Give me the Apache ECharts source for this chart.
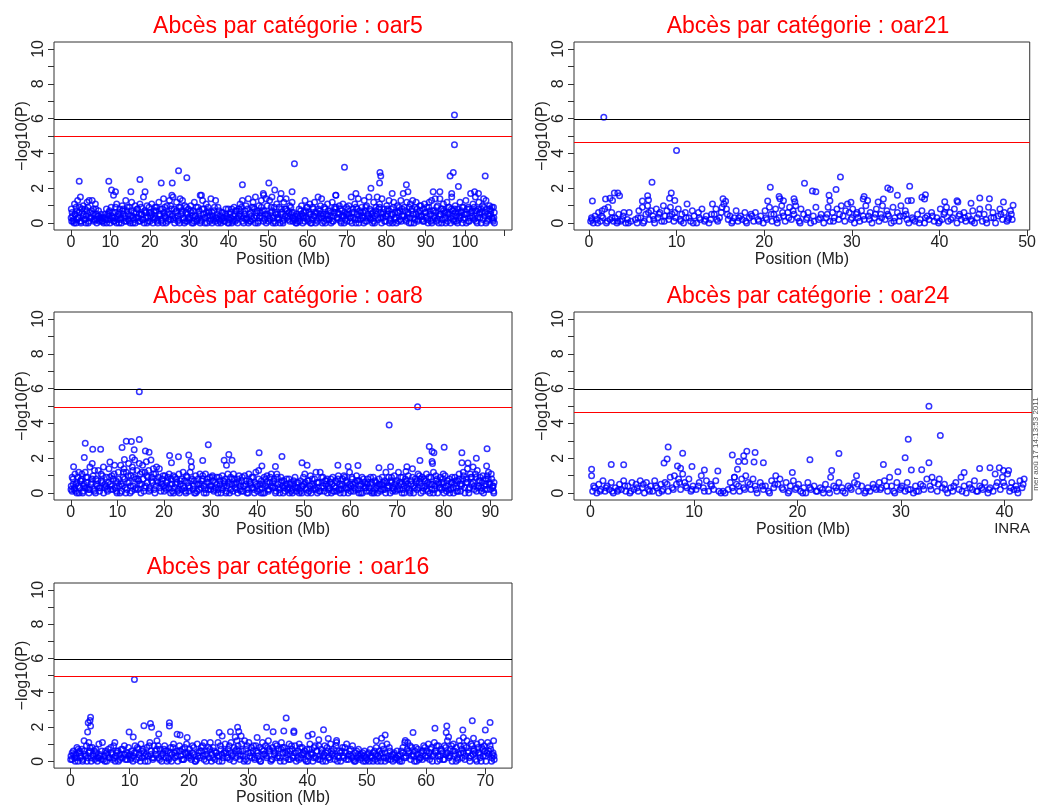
<!DOCTYPE html>
<html>
<head>
<meta charset="utf-8">
<script src="https://cdn.jsdelivr.net/npm/echarts@6/dist/echarts.min.js"></script>
<style>
html,body{margin:0;padding:0;background:#fff;}
#chart{width:1039px;height:807px;}
</style>
</head>
<body>
<div id="chart"></div>
<script>
// les 5 chromosomes : positions (Mb) et -log10(P)
var chromNames = ['oar5', 'oar21', 'oar8', 'oar24', 'oar16'];
var blackLines = [5.98, 5.98, 5.95, 5.95, 5.97];
var redLines = [4.98, 4.65, 4.94, 4.62, 4.93];
var yTicks = [0, 1, 2, 3, 4, 5, 6, 7, 8, 9, 10];
var yLabels = [0, 2, 4, 6, 8, 10];
var xTicks = [
	[0, 10, 20, 30, 40, 50, 60, 70, 80, 90, 100, 110],
	[0, 10, 20, 30, 40, 50],
	[0, 10, 20, 30, 40, 50, 60, 70, 80, 90],
	[0, 10, 20, 30, 40],
	[0, 10, 20, 30, 40, 50, 60, 70]
];
var xLabels = [
	[0, 10, 20, 30, 40, 50, 60, 70, 80, 90, 100],
	[0, 10, 20, 30, 40, 50],
	[0, 10, 20, 30, 40, 50, 60, 70, 80, 90],
	[0, 10, 20, 30, 40],
	[0, 10, 20, 30, 40, 50, 60, 70]
];

var oar5Peaks = [[97.3,6.2],[97.3,4.5],[56.7,3.4],[69.4,3.2],[27.3,3.0],[78.4,2.9],[78.6,2.7],[97.0,2.9],[96.2,2.7],[105.1,2.7],[29.4,2.6],[2.1,2.4],[9.6,2.4],[17.5,2.5],[22.9,2.3],[25.7,2.3],[43.5,2.2],[50.2,2.3],[78.3,2.3],[85.1,2.2],[98.3,2.1],[76.1,2.0],[10.3,1.9],[51.7,1.9],[56.1,1.8],[18.8,1.8],[15.2,1.8],[11.3,1.8],[85.5,1.8],[91.9,1.8],[93.6,1.8],[102.4,1.8],[72.3,1.7],[67.2,1.6],[81.5,1.7],[96.6,1.7],[103.4,1.7],[33.1,1.6],[48.8,1.7],[53.3,1.7]];
var oar5Band = [[0.1,0.8],[0.2,0.1],[0.4,0.4],[0.7,0.2],[0.9,1.1],[1.1,0.5],[1.3,0.0],[1.5,0.7],[1.7,1.3],[1.9,0.3],[2.2,0.9],[2.4,1.5],[2.6,0.1],[2.9,0.6],[3.1,1.0],[3.4,0.2],[3.6,0.8],[3.9,0.4],[4.1,1.2],[4.4,0.0],[4.6,1.3],[4.9,0.6],[5.2,0.3],[5.4,1.3],[5.7,0.8],[5.9,0.1],[6.2,1.1],[6.5,0.5],[6.7,0.2],[7.0,0.7],[7.3,0.3],[7.6,0.5],[7.9,0.1],[8.2,0.3],[8.6,0.5],[9.0,0.8],[9.3,0.2],[9.6,0.6],[9.9,0.0],
[10.2,0.9],[10.5,0.3],[10.8,1.6],[11.0,0.1],[11.3,0.6],[11.6,1.1],[11.9,0.4],[12.2,0.0],[12.4,0.8],[12.7,0.3],[13.0,1.0],[13.3,0.5],[13.6,0.1],[13.9,1.3],[14.2,0.7],[14.5,0.2],[14.8,0.9],[15.1,0.4],[15.4,1.2],[15.7,0.0],[16.0,0.6],[16.3,1.0],[16.6,0.3],[16.9,0.8],[17.2,0.1],[17.5,1.1],[17.8,0.5],[18.1,0.2],[18.4,1.5],[18.7,0.7],[19.0,0.3],[19.3,1.0],[19.6,0.1],[19.9,0.6],
[20.2,0.4],[20.5,1.1],[20.8,0.0],[21.1,0.7],[21.4,0.3],[21.7,0.9],[22.0,0.2],[22.3,1.2],[22.6,0.5],[22.9,0.1],[23.2,0.8],[23.5,1.4],[23.8,0.4],[24.1,0.0],[24.4,1.0],[24.7,0.6],[25.0,1.3],[25.3,0.2],[25.6,1.6],[25.9,1.5],[26.2,0.8],[26.5,0.3],[26.8,1.2],[27.1,0.1],[27.4,0.9],[27.7,1.4],[28.0,0.5],[28.3,1.3],[28.6,0.2],[28.9,1.0],[29.2,0.6],[29.5,0.1],[29.8,0.8],
[30.1,0.3],[30.4,1.0],[30.7,0.0],[31.0,0.7],[31.3,1.2],[31.6,0.4],[31.9,0.1],[32.2,0.9],[32.5,0.5],[32.8,1.6],[33.1,0.2],[33.4,1.3],[33.7,0.8],[34.0,0.0],[34.3,1.1],[34.6,0.4],[34.9,0.7],[35.2,0.1],[35.5,1.4],[35.8,0.6],[36.1,0.2],[36.4,0.9],[36.7,1.3],[37.0,0.3],[37.3,0.0],[37.6,0.7],[37.9,0.4],[38.2,0.2],[38.5,0.6],[38.9,0.1],[39.2,0.5],[39.6,0.3],[39.9,0.8],
[40.2,0.2],[40.5,0.6],[40.8,0.0],[41.1,0.4],[41.4,0.9],[41.7,0.1],[42.0,0.7],[42.3,0.3],[42.6,0.8],[42.9,1.1],[43.2,0.4],[43.5,1.3],[43.8,0.0],[44.1,0.7],[44.4,1.0],[44.7,0.2],[45.0,1.4],[45.3,0.5],[45.6,0.1],[45.9,0.9],[46.2,1.2],[46.5,0.3],[46.8,1.5],[47.1,0.6],[47.4,0.0],[47.7,1.0],[48.0,0.4],[48.3,1.3],[48.6,0.7],[48.9,1.6],[49.2,0.2],[49.5,1.4],[49.8,0.5],
[50.1,0.1],[50.4,1.3],[50.7,0.6],[51.0,1.5],[51.3,0.3],[51.6,0.9],[51.9,0.0],[52.2,1.1],[52.5,0.5],[52.8,0.2],[53.1,1.4],[53.4,0.8],[53.7,0.1],[54.0,1.2],[54.3,0.4],[54.6,1.4],[54.9,0.7],[55.2,0.2],[55.5,1.0],[55.8,0.5],[56.1,1.2],[56.3,0.3],[56.5,0.6],[57.0,0.2],[57.3,0.5],[57.6,0.1],[57.9,0.8],[58.2,0.4],[58.5,1.0],[58.8,0.0],[59.1,0.6],[59.4,1.3],[59.7,0.3],
[60.0,0.9],[60.3,0.1],[60.6,1.1],[60.9,0.5],[61.2,0.2],[61.5,0.8],[61.8,1.2],[62.1,0.0],[62.4,0.6],[62.7,1.5],[63.0,0.3],[63.3,1.0],[63.6,1.4],[63.9,0.4],[64.2,0.1],[64.5,0.8],[64.8,0.5],[65.1,1.1],[65.4,0.2],[65.7,0.7],[66.0,0.0],[66.3,1.2],[66.6,0.4],[66.9,0.9],[67.2,1.6],[67.5,0.3],[67.8,0.6],[68.1,1.0],[68.4,0.1],[68.7,0.7],[69.0,1.1],[69.3,0.4],[69.6,0.2],[69.9,0.9],
[70.2,0.5],[70.5,1.0],[70.8,0.1],[71.1,1.5],[71.4,0.6],[71.7,0.3],[72.0,1.1],[72.3,0.0],[72.6,0.8],[72.9,1.4],[73.2,0.4],[73.5,0.2],[73.8,0.9],[74.1,0.6],[74.4,1.3],[74.7,0.1],[75.0,1.0],[75.3,0.5],[75.6,1.5],[75.9,0.3],[76.2,0.7],[76.5,0.0],[76.8,1.2],[77.1,0.4],[77.4,0.9],[77.7,1.5],[78.0,0.2],[78.3,1.1],[78.6,0.6],[78.9,1.4],[79.2,0.3],[79.5,0.8],[79.8,0.1],
[80.1,1.0],[80.4,0.5],[80.7,1.3],[81.0,0.2],[81.3,0.8],[81.6,0.0],[81.9,1.2],[82.2,0.6],[82.5,0.3],[82.8,1.0],[83.1,0.1],[83.4,0.7],[83.7,1.3],[84.0,0.4],[84.3,1.7],[84.6,0.9],[84.9,0.2],[85.2,1.2],[85.5,0.5],[85.8,0.0],[86.1,1.1],[86.4,0.7],[86.7,1.3],[87.0,0.3],[87.3,0.9],[87.6,1.2],[87.9,0.1],[88.2,0.6],[88.5,1.0],[88.8,0.4],[89.1,0.2],[89.4,0.8],[89.7,1.1],
[90.0,0.3],[90.3,0.9],[90.6,0.0],[90.9,1.2],[91.2,0.5],[91.5,1.3],[91.8,0.2],[92.1,0.7],[92.4,1.4],[92.7,0.1],[93.0,1.0],[93.3,0.4],[93.6,1.4],[93.9,0.8],[94.2,0.2],[94.5,1.1],[94.8,0.6],[95.1,0.0],[95.4,1.2],[95.7,0.5],[96.0,0.9],[96.3,0.3],[96.6,1.5],[96.9,0.7],[97.2,0.1],[97.5,1.0],[97.8,0.4],[98.1,0.8],[98.4,0.2],[98.7,1.2],[99.0,0.6],[99.3,0.0],[99.6,0.9],[99.9,0.3],
[100.2,1.3],[100.5,0.5],[100.8,0.1],[101.1,0.8],[101.4,1.7],[101.7,0.4],[102.0,1.1],[102.3,0.2],[102.6,1.5],[102.9,0.7],[103.2,0.3],[103.5,1.2],[103.8,0.6],[104.1,0.0],[104.4,1.0],[104.7,1.4],[105.0,0.4],[105.3,1.3],[105.6,0.8],[105.9,0.2],[106.2,1.0],[106.5,0.5],[106.8,0.9],[107.1,0.1],[107.3,0.3],[107.4,0.6]];
var oar5Low = [[0.05,0.3],[0.55,0.1],[1.05,0.5],[1.55,0.2],[2.05,0.6],[2.55,0.0],[3.05,0.4],[3.55,0.2],[4.05,0.7],[4.55,0.1],[5.05,0.3],[5.55,0.5],[6.05,0.2],[6.55,0.0],[7.05,0.4],[7.55,0.2],[8.05,0.1],[8.55,0.3],[9.05,0.0],[9.55,0.4],
[10.05,0.2],[10.55,0.6],[11.05,0.3],[11.55,0.0],[12.05,0.5],[12.55,0.2],[13.05,0.7],[13.55,0.3],[14.05,0.1],[14.55,0.5],[15.05,0.0],[15.55,0.4],[16.05,0.2],[16.55,0.6],[17.05,0.3],[17.55,0.1],[18.05,0.5],[18.55,0.0],[19.05,0.6],[19.55,0.3],
[20.05,0.1],[20.55,0.5],[21.05,0.2],[21.55,0.7],[22.05,0.0],[22.55,0.4],[23.05,0.2],[23.55,0.6],[24.05,0.3],[24.55,0.1],[25.05,0.5],[25.55,0.8],[26.05,0.2],[26.55,0.6],[27.05,0.4],[27.55,0.0],[28.05,0.7],[28.55,0.3],[29.05,0.1],[29.55,0.5],
[30.05,0.2],[30.55,0.6],[31.05,0.0],[31.55,0.4],[32.05,0.2],[32.55,0.7],[33.05,0.1],[33.55,0.5],[34.05,0.3],[34.55,0.0],[35.05,0.6],[35.55,0.2],[36.05,0.4],[36.55,0.1],[37.05,0.5],[37.55,0.2],[38.05,0.0],[38.55,0.3],[39.05,0.1],[39.55,0.4],
[40.05,0.0],[40.55,0.3],[41.05,0.1],[41.55,0.5],[42.05,0.2],[42.55,0.4],[43.05,0.7],[43.55,0.1],[44.05,0.5],[44.55,0.3],[45.05,0.0],[45.55,0.6],[46.05,0.2],[46.55,0.8],[47.05,0.4],[47.55,0.1],[48.05,0.6],[48.55,0.3],[49.05,0.7],[49.55,0.0],
[50.05,0.4],[50.55,0.2],[51.05,0.7],[51.55,0.1],[52.05,0.5],[52.55,0.3],[53.05,0.0],[53.55,0.6],[54.05,0.2],[54.55,0.8],[55.05,0.4],[55.55,0.1],[56.05,0.6],[56.55,0.2],[57.05,0.0],[57.55,0.4],[58.05,0.1],[58.55,0.5],[59.05,0.3],[59.55,0.7],
[60.05,0.2],[60.55,0.5],[61.05,0.0],[61.55,0.4],[62.05,0.6],[62.55,0.1],[63.05,0.7],[63.55,0.3],[64.05,0.5],[64.55,0.0],[65.05,0.4],[65.55,0.2],[66.05,0.6],[66.55,0.1],[67.05,0.8],[67.55,0.3],[68.05,0.5],[68.55,0.0],[69.05,0.4],[69.55,0.6],
[70.05,0.1],[70.55,0.5],[71.05,0.3],[71.55,0.8],[72.05,0.2],[72.55,0.5],[73.05,0.0],[73.55,0.6],[74.05,0.3],[74.55,0.7],[75.05,0.1],[75.55,0.4],[76.05,0.2],[76.55,0.6],[77.05,0.0],[77.55,0.5],[78.05,0.8],[78.55,0.3],[79.05,0.5],[79.55,0.1],
[80.05,0.4],[80.55,0.7],[81.05,0.1],[81.55,0.5],[82.05,0.3],[82.55,0.0],[83.05,0.6],[83.55,0.2],[84.05,0.8],[84.55,0.4],[85.05,0.1],[85.55,0.6],[86.05,0.3],[86.55,0.8],[87.05,0.0],[87.55,0.5],[88.05,0.2],[88.55,0.7],[89.05,0.4],[89.55,0.1],
[90.05,0.6],[90.55,0.2],[91.05,0.7],[91.55,0.0],[92.05,0.4],[92.55,0.6],[93.05,0.2],[93.55,0.5],[94.05,0.0],[94.55,0.7],[95.05,0.3],[95.55,0.1],[96.05,0.5],[96.55,0.8],[97.05,0.2],[97.55,0.6],[98.05,0.0],[98.55,0.4],[99.05,0.7],[99.55,0.2],
[100.05,0.5],[100.55,0.8],[101.05,0.1],[101.55,0.6],[102.05,0.3],[102.55,0.7],[103.05,0.0],[103.55,0.5],[104.05,0.8],[104.55,0.2],[105.05,0.6],[105.55,0.1],[106.05,0.4],[106.55,0.7],[107.05,0.2],[107.45,0.0]];
var oar5Fill = [[0.3,0.6],[0.8,0.0],[1.3,0.9],[1.8,0.3],[2.3,0.1],[2.8,0.8],[3.3,0.5],[3.8,0.0],[4.3,0.9],[4.8,0.3],[5.3,0.7],[5.8,0.2],[6.3,0.8],[6.8,0.4],[7.3,0.1],[7.8,0.3],[8.3,0.0],[8.8,0.2],[9.3,0.5],[9.8,0.7],
[10.3,0.4],[10.8,0.1],[11.3,0.9],[11.8,0.2],[12.3,0.6],[12.8,0.0],[13.3,0.8],[13.8,0.4],[14.3,0.9],[14.8,0.1],[15.3,0.7],[15.8,0.3],[16.3,0.0],[16.8,0.8],[17.3,0.5],[17.8,0.9],[18.3,0.2],[18.8,0.6],[19.3,0.0],[19.8,0.9],
[20.3,0.6],[20.8,0.3],[21.3,0.9],[21.8,0.1],[22.3,0.5],[22.8,0.8],[23.3,0.0],[23.8,0.9],[24.3,0.5],[24.8,0.2],[25.3,1.0],[25.8,0.4],[26.3,0.0],[26.8,0.7],[27.3,0.2],[27.8,0.9],[28.3,0.6],[28.8,0.0],[29.3,0.9],[29.8,0.3],
[30.3,0.7],[30.8,0.4],[31.3,0.1],[31.8,0.9],[32.3,0.3],[32.8,0.0],[33.3,0.8],[33.8,0.3],[34.3,0.6],[34.8,0.9],[35.3,0.4],[35.8,0.0],[36.3,0.7],[36.8,0.3],[37.3,0.9],[37.8,0.1],[38.3,0.6],[38.8,0.3],[39.3,0.8],[39.8,0.0],
[40.3,0.5],[40.8,0.8],[41.3,0.2],[41.8,0.7],[42.3,0.0],[42.8,0.5],[43.3,0.9],[43.8,0.3],[44.3,0.2],[44.8,0.8],[45.3,0.1],[45.8,0.4],[46.3,0.9],[46.8,0.0],[47.3,0.7],[47.8,0.3],[48.3,0.9],[48.8,0.1],[49.3,0.5],[49.8,1.0],
[50.3,0.3],[50.8,0.9],[51.3,0.0],[51.8,0.6],[52.3,0.3],[52.8,0.9],[53.3,0.5],[53.8,0.0],[54.3,0.8],[54.8,0.3],[55.3,0.6],[55.8,0.9],[56.3,0.1],[56.8,0.4],[57.3,0.0],[57.8,0.3],[58.3,0.7],[58.8,0.4],[59.3,0.1],[59.8,0.9],
[60.3,0.6],[60.8,0.0],[61.3,0.9],[61.8,0.4],[62.3,0.2],[62.8,0.8],[63.3,0.5],[63.8,0.0],[64.3,0.9],[64.8,0.2],[65.3,0.7],[65.8,0.4],[66.3,0.1],[66.8,0.6],[67.3,0.9],[67.8,0.2],[68.3,0.8],[68.8,0.4],[69.3,0.0],[69.8,0.5],
[70.3,0.8],[70.8,0.3],[71.3,0.0],[71.8,0.6],[72.3,0.9],[72.8,0.2],[73.3,0.7],[73.8,0.4],[74.3,0.0],[74.8,0.9],[75.3,0.3],[75.8,0.8],[76.3,0.5],[76.8,0.1],[77.3,0.7],[77.8,0.3],[78.3,0.9],[78.8,0.0],[79.3,0.6],[79.8,0.4],
[80.3,0.8],[80.8,0.0],[81.3,0.5],[81.8,0.9],[82.3,0.2],[82.8,0.6],[83.3,0.9],[83.8,0.1],[84.3,0.4],[84.8,0.7],[85.3,0.3],[85.8,0.9],[86.3,0.0],[86.8,0.5],[87.3,0.2],[87.8,0.8],[88.3,0.4],[88.8,1.0],[89.3,0.1],[89.8,0.6],
[90.3,0.4],[90.8,0.9],[91.3,0.1],[91.8,0.7],[92.3,0.3],[92.8,0.9],[93.3,0.0],[93.8,0.5],[94.3,0.8],[94.8,0.2],[95.3,0.6],[95.8,0.9],[96.3,0.0],[96.8,0.4],[97.3,0.8],[97.8,0.1],[98.3,0.6],[98.8,0.3],[99.3,0.9],[99.8,0.5],
[100.3,0.0],[100.8,0.9],[101.3,0.3],[101.8,0.7],[102.3,0.9],[102.8,0.1],[103.3,0.8],[103.8,0.3],[104.3,0.6],[104.8,0.9],[105.3,0.0],[105.8,0.5],[106.3,0.8],[106.8,0.3],[107.2,0.9]];

var oar21Peaks = [[1.7,6.07],[10.0,4.16],[7.2,2.34],[28.7,2.64],[24.6,2.28],[20.7,2.05],[36.6,2.11],[34.1,2.01],[34.4,1.92],[28.2,1.92],[25.5,1.84],[25.9,1.8],[2.9,1.72],[3.3,1.72],[3.5,1.57],[9.4,1.72],[6.7,1.57],[27.4,1.59],[35.2,1.59],[38.4,1.63],[38.0,1.48],[38.3,1.38],[0.4,1.26],[1.9,1.38],[2.4,1.42],[2.7,1.3],[6.1,1.26],[6.8,1.32],[9.2,1.42],[9.8,1.3],[15.3,1.4],[15.6,1.25],[20.4,1.26],[21.7,1.53],[21.8,1.4],[22.2,1.28],[23.4,1.4],[23.5,1.23],[27.5,1.28],[29.9,1.19],[31.3,1.38],[31.4,1.53],[31.8,1.3],[33.6,1.38],[33.0,1.21],[36.4,1.28],[36.8,1.3],[40.6,1.23],[42.0,1.28],[42.1,1.21],[43.6,1.13],[44.6,1.44],[45.7,1.4],[47.3,1.21],[48.4,1.02]];
var oar21Band = [[0.2,0.1],[0.3,0.3],[0.5,0.0],[0.7,0.4],[0.9,0.2],[1.1,0.6],[1.3,0.1],[1.5,0.7],[1.6,0.3],[1.8,0.8],[2.0,0.0],[2.2,0.9],[2.4,0.2],[2.6,0.6],[2.8,0.1],[3.0,0.3],[3.2,0.0],[3.4,0.5],[3.6,0.1],[3.8,0.2],[4.0,0.6],[4.2,0.0],[4.4,0.2],[4.6,0.6],[4.8,0.1],[5.3,0.2],[5.5,0.0],[5.7,0.7],[5.9,0.3],[6.1,0.9],[6.3,0.1],[6.5,0.5],[6.7,1.0],[6.9,0.2],[7.1,0.7],[7.3,0.4],[7.5,0.0],[7.7,0.8],[7.9,0.3],[8.1,0.6],[8.3,0.1],[8.5,1.0],[8.7,0.4],[8.9,0.7],[9.1,0.2],[9.3,0.9],[9.5,0.5],[9.7,0.1],[9.9,0.3],
[10.2,0.8],[10.4,0.2],[10.6,0.5],[10.8,0.0],[11.0,0.6],[11.2,1.1],[11.4,0.3],[11.6,0.1],[11.8,0.7],[12.0,0.4],[12.3,0.0],[12.5,0.6],[12.7,0.2],[12.9,0.8],[13.2,0.1],[13.4,0.4],[13.7,0.0],[13.9,0.2],[14.1,1.1],[14.3,0.5],[14.5,0.8],[14.7,0.1],[14.9,0.3],[15.1,0.6],[15.4,1.1],[15.7,0.8],[15.9,0.2],[16.1,0.4],[16.3,0.0],[16.6,0.3],[16.8,0.7],[17.0,0.1],[17.3,0.4],[17.5,0.2],[17.8,0.6],[18.0,0.0],[18.3,0.3],[18.5,0.5],[18.8,0.1],[19.0,0.6],[19.3,0.2],[19.6,0.4],[19.9,0.0],
[20.1,0.7],[20.3,0.2],[20.6,0.9],[20.9,0.1],[21.1,0.5],[21.3,0.8],[21.5,0.0],[21.7,0.3],[22.0,1.0],[22.2,0.4],[22.4,0.1],[22.7,0.6],[22.9,0.9],[23.1,0.2],[23.3,0.7],[23.6,1.0],[23.8,0.3],[24.0,0.1],[24.2,0.8],[24.5,0.5],[24.8,0.2],[25.0,0.6],[25.3,0.0],[25.6,0.4],[25.9,0.9],[26.2,0.2],[26.5,0.5],[26.8,0.0],[27.1,0.3],[27.3,0.9],[27.5,0.1],[27.8,0.6],[28.0,0.3],[28.3,0.8],[28.5,0.2],[28.8,1.0],[29.0,0.4],[29.2,0.1],[29.5,1.1],[29.7,0.6],[29.9,0.2],
[30.1,0.8],[30.3,0.0],[30.5,0.5],[30.7,0.3],[30.9,0.1],[31.1,0.7],[31.4,0.2],[31.6,1.0],[31.9,0.4],[32.1,0.6],[32.3,0.0],[32.6,0.3],[32.8,0.8],[33.1,0.1],[33.3,0.5],[33.5,1.0],[33.8,0.2],[34.0,0.7],[34.2,0.4],[34.5,0.0],[34.7,0.9],[34.9,0.3],[35.2,0.6],[35.4,0.1],[35.6,1.0],[35.9,0.4],[36.1,0.7],[36.3,0.2],[36.5,0.0],[36.9,0.3],[37.2,0.1],[37.5,0.5],[37.8,0.2],[38.0,0.7],[38.3,0.0],[38.6,0.4],[38.8,0.2],[39.1,0.6],[39.4,0.1],[39.7,0.3],[39.9,0.0],
[40.1,0.8],[40.3,0.2],[40.5,0.5],[40.8,0.9],[41.0,0.1],[41.2,0.6],[41.5,0.3],[41.7,0.8],[42.0,0.0],[42.3,0.5],[42.5,0.2],[42.8,0.6],[43.0,0.1],[43.3,0.4],[43.6,0.2],[43.8,0.7],[44.0,0.0],[44.3,0.3],[44.6,0.8],[44.9,0.1],[45.1,0.5],[45.3,0.2],[45.6,0.9],[45.9,0.3],[46.1,0.6],[46.4,0.0],[46.7,0.4],[46.9,0.8],[47.2,0.2],[47.4,0.6],[47.7,0.1],[47.9,0.3],[48.1,0.7],[48.3,0.2]];
var oar21Low = [[0.35,0.2],[1.0,0.0],[1.45,0.4],[2.1,0.1],[2.65,0.3],[3.3,0.1],[3.9,0.4],[4.5,0.0],[5.6,0.3],[6.2,0.0],[6.8,0.6],[7.4,0.2],[8.0,0.5],[8.6,0.1],[9.2,0.4],[9.8,0.6],[10.5,0.1],[11.1,0.3],[11.9,0.0],[12.6,0.3],[13.3,0.2],[14.0,0.5],[14.6,0.2],[15.2,0.9],[15.8,0.5],[16.4,0.1],[17.1,0.3],[17.9,0.1],[18.6,0.4],[19.4,0.1],[20.2,0.3],[20.8,0.5],[21.4,0.2],[22.1,0.6],[22.8,0.3],[23.4,0.5],[24.1,0.0],[24.9,0.3],[25.7,0.1],[26.4,0.3],[27.2,0.5],[27.9,0.1],[28.6,0.5],[29.3,0.7],[30.0,0.3],[30.6,0.6],[31.3,0.4],[32.0,0.2],[32.7,0.5],[33.4,0.3],[34.1,0.5],[34.8,0.1],[35.5,0.4],[36.2,0.5],[37.0,0.2],[37.7,0.0],[38.4,0.3],[39.2,0.4],[40.0,0.1],[40.6,0.6],[41.3,0.2],[42.2,0.4],[42.9,0.3],[43.7,0.1],[44.5,0.5],[45.4,0.0],[46.2,0.3],[47.0,0.5],[47.8,0.2],[48.2,0.5]];

var oar8Peaks = [[14.7,5.82],[74.4,4.96],[68.3,3.91],[14.7,3.07],[29.5,2.77],[3.1,2.86],[11.9,2.98],[13.0,2.96],[76.9,2.67],[80.1,2.63],[89.3,2.54],[11.0,2.61],[6.4,2.52],[4.7,2.52],[13.6,2.48],[77.5,2.39],[16.0,2.42],[16.8,2.35],[40.4,2.31],[77.9,2.31],[83.9,2.31],[33.9,2.21],[21.2,2.16],[25.3,2.19],[45.3,2.1],[23.1,2.08],[2.9,2.04],[13.2,2.04],[32.9,1.89],[34.6,1.89],[28.3,1.87],[74.9,1.87],[11.5,1.93],[25.8,1.81],[21.6,1.74],[8.4,1.79],[49.6,1.74],[50.7,1.6],[57.3,1.6],[61.6,1.58],[77.5,1.81],[77.6,1.7],[83.9,1.74],[87.0,2.0],[85.2,1.72],[89.2,1.55],[43.9,1.53],[41.0,1.56],[66.1,1.45],[72.1,1.51],[68.6,1.51],[59.5,1.53],[71.9,1.24],[33.4,1.6],[0.6,1.51],[79.9,1.09]];
var oar8Band = [[0.1,0.4],[0.3,0.1],[0.5,0.8],[0.7,0.2],[0.9,1.1],[1.1,0.5],[1.3,0.0],[1.5,0.9],[1.7,1.2],[1.9,0.3],[2.2,0.7],[2.4,1.1],[2.6,0.1],[2.9,0.5],[3.1,1.2],[3.4,0.3],[3.6,0.9],[3.9,0.0],[4.1,1.5],[4.4,0.6],[4.6,1.7],[4.9,0.2],[5.1,1.3],[5.4,0.8],[5.7,0.4],[5.9,1.3],[6.2,0.1],[6.5,1.1],[6.7,0.6],[7.0,1.5],[7.3,0.3],[7.6,0.9],[7.9,0.1],[8.2,1.4],[8.5,0.5],[8.8,1.0],[9.1,0.2],[9.4,1.6],[9.7,0.7],[9.9,0.0],
[10.2,1.2],[10.4,0.4],[10.7,1.6],[10.9,0.1],[11.2,0.9],[11.4,1.4],[11.7,0.3],[11.9,1.2],[12.2,0.6],[12.4,1.7],[12.7,0.0],[12.9,1.0],[13.2,1.5],[13.4,0.4],[13.7,1.9],[13.9,0.8],[14.2,1.3],[14.4,0.2],[14.7,1.7],[14.9,1.1],[15.2,0.5],[15.4,1.6],[15.7,0.1],[15.9,1.2],[16.2,1.8],[16.4,0.6],[16.7,1.3],[16.9,0.3],[17.2,1.9],[17.4,0.9],[17.7,1.4],[17.9,0.2],[18.2,1.1],[18.4,1.5],[18.7,0.6],[19.0,1.4],[19.3,0.1],[19.6,0.8],[19.9,0.4],
[20.2,1.0],[20.5,0.2],[20.8,0.7],[21.1,1.1],[21.4,0.0],[21.7,0.5],[22.0,1.0],[22.3,0.3],[22.6,0.8],[22.9,0.1],[23.2,1.1],[23.5,0.5],[23.8,0.2],[24.1,1.2],[24.4,0.7],[24.7,0.0],[25.0,0.9],[25.3,0.4],[25.6,1.2],[25.9,1.5],[26.2,0.2],[26.5,0.7],[26.8,1.0],[27.1,0.1],[27.4,0.5],[27.7,1.1],[28.0,0.3],[28.3,0.8],[28.6,0.0],[28.9,1.1],[29.2,0.6],[29.5,0.2],[29.8,0.9],
[30.1,0.4],[30.4,1.0],[30.7,0.1],[31.0,0.6],[31.3,0.9],[31.6,0.2],[31.9,0.7],[32.2,0.0],[32.5,1.0],[32.8,0.4],[33.1,0.8],[33.4,0.1],[33.7,1.1],[34.0,0.5],[34.3,0.2],[34.6,0.8],[34.9,1.1],[35.2,0.3],[35.5,0.6],[35.8,0.0],[36.1,1.0],[36.4,0.4],[36.7,0.7],[37.0,0.1],[37.3,1.0],[37.6,0.5],[37.9,0.2],[38.2,1.1],[38.5,0.6],[38.8,0.3],[39.1,0.9],[39.4,0.0],[39.7,1.2],
[40.0,0.4],[40.3,1.3],[40.6,0.2],[40.9,0.7],[41.2,0.0],[41.5,0.9],[41.8,0.4],[42.1,1.0],[42.4,0.1],[42.7,0.6],[43.0,1.1],[43.3,0.3],[43.6,0.8],[43.9,0.0],[44.2,1.1],[44.5,0.5],[44.8,0.2],[45.1,0.9],[45.4,0.4],[45.7,0.7],[46.0,0.1],[46.3,0.8],[46.6,0.3],[46.9,0.0],[47.2,0.6],[47.5,0.2],[47.8,0.5],[48.1,0.9],[48.4,0.1],[48.7,0.3],[49.0,0.0],[49.3,0.7],[49.6,0.4],[49.9,0.9],
[50.2,1.1],[50.5,0.3],[50.8,0.7],[51.1,0.1],[51.4,1.0],[51.7,0.5],[52.0,0.2],[52.3,0.8],[52.6,1.2],[52.9,0.0],[53.2,0.6],[53.5,1.2],[53.8,0.3],[54.1,0.9],[54.4,0.1],[54.7,0.5],[55.0,0.8],[55.3,0.2],[55.6,0.6],[55.9,0.0],[56.2,0.9],[56.5,0.4],[56.8,0.7],[57.1,0.1],[57.4,1.0],[57.7,0.5],[58.0,0.2],[58.3,0.8],[58.6,1.0],[58.9,0.3],[59.2,0.6],[59.5,0.0],[59.8,1.2],
[60.1,0.4],[60.4,0.8],[60.7,0.1],[61.0,0.6],[61.3,1.0],[61.6,0.2],[61.9,0.7],[62.2,0.0],[62.5,0.9],[62.8,0.4],[63.1,0.6],[63.4,0.1],[63.7,0.8],[64.0,0.3],[64.3,0.5],[64.6,0.0],[64.9,0.9],[65.2,0.2],[65.5,0.6],[65.8,0.4],[66.1,0.8],[66.4,0.1],[66.7,0.5],[67.0,0.2],[67.3,0.7],[67.6,1.2],[67.9,0.3],[68.2,0.9],[68.5,0.0],[68.8,0.6],[69.1,0.3],[69.4,1.0],[69.7,0.1],
[70.0,0.7],[70.3,1.2],[70.6,0.2],[70.9,0.5],[71.2,0.9],[71.5,0.0],[71.8,0.6],[72.1,0.3],[72.4,1.0],[72.7,0.1],[73.0,0.7],[73.3,1.4],[73.6,0.4],[73.9,0.8],[74.2,0.2],[74.5,1.1],[74.8,0.6],[75.1,0.0],[75.4,0.9],[75.7,0.3],[76.0,0.7],[76.3,1.1],[76.6,0.1],[76.9,0.5],[77.2,0.9],[77.5,0.2],[77.8,1.2],[78.1,0.4],[78.4,0.7],[78.7,0.0],[79.0,0.5],[79.3,0.9],[79.6,0.2],
[80.0,0.6],[80.3,1.0],[80.6,0.1],[80.9,0.4],[81.2,0.8],[81.5,0.2],[81.8,0.6],[82.1,0.0],[82.4,0.9],[82.7,0.3],[83.0,0.7],[83.3,1.1],[83.6,0.1],[83.9,0.5],[84.2,1.2],[84.5,0.3],[84.8,0.8],[85.1,1.4],[85.4,0.0],[85.7,1.1],[86.0,0.5],[86.3,1.5],[86.6,0.2],[86.9,0.9],[87.2,1.3],[87.5,0.4],[87.8,0.7],[88.1,0.1],[88.4,1.0],[88.7,0.4],[89.0,0.8],[89.3,0.2],[89.6,1.2],[89.9,0.5],[90.2,1.1],[90.5,0.3],[90.7,0.1],[90.8,0.6]];
var oar8Low = [[0.05,0.2],[0.55,0.5],[1.05,0.1],[1.55,0.4],[2.05,0.7],[2.55,0.0],[3.05,0.3],[3.55,0.6],[4.05,0.2],[4.55,0.8],[5.05,0.1],[5.55,0.5],[6.05,0.3],[6.55,0.7],[7.05,0.0],[7.55,0.4],[8.05,0.6],[8.55,0.2],[9.05,0.8],[9.55,0.3],
[10.05,0.6],[10.55,0.0],[11.05,0.4],[11.55,0.8],[12.05,0.2],[12.55,0.6],[13.05,0.1],[13.55,0.9],[14.05,0.3],[14.55,0.7],[15.05,0.0],[15.55,0.8],[16.05,0.4],[16.55,0.9],[17.05,0.2],[17.55,0.6],[18.05,0.0],[18.55,0.7],[19.05,0.3],[19.55,0.5],
[20.05,0.1],[20.55,0.6],[21.05,0.3],[21.55,0.8],[22.05,0.0],[22.55,0.5],[23.05,0.2],[23.55,0.7],[24.05,0.4],[24.55,0.1],[25.05,0.6],[25.55,0.3],[26.05,0.8],[26.55,0.0],[27.05,0.5],[27.55,0.2],[28.05,0.7],[28.55,0.4],[29.05,0.0],[29.55,0.6],
[30.05,0.2],[30.55,0.7],[31.05,0.3],[31.55,0.0],[32.05,0.5],[32.55,0.2],[33.05,0.6],[33.55,0.4],[34.05,0.0],[34.55,0.5],[35.05,0.8],[35.55,0.2],[36.05,0.6],[36.55,0.1],[37.05,0.4],[37.55,0.7],[38.05,0.0],[38.55,0.5],[39.05,0.3],[39.55,0.6],
[40.05,0.1],[40.55,0.5],[41.05,0.3],[41.55,0.0],[42.05,0.6],[42.55,0.2],[43.05,0.4],[43.55,0.7],[44.05,0.1],[44.55,0.3],[45.05,0.6],[45.55,0.0],[46.05,0.4],[46.55,0.2],[47.05,0.5],[47.55,0.0],[48.05,0.3],[48.55,0.6],[49.05,0.2],[49.55,0.0],
[50.05,0.5],[50.55,0.2],[51.05,0.7],[51.55,0.0],[52.05,0.4],[52.55,0.2],[53.05,0.6],[53.55,0.1],[54.05,0.4],[54.55,0.7],[55.05,0.0],[55.55,0.3],[56.05,0.5],[56.55,0.1],[57.05,0.6],[57.55,0.2],[58.05,0.4],[58.55,0.0],[59.05,0.7],[59.55,0.3],
[60.05,0.1],[60.55,0.5],[61.05,0.2],[61.55,0.7],[62.05,0.4],[62.55,0.0],[63.05,0.3],[63.55,0.5],[64.05,0.1],[64.55,0.6],[65.05,0.0],[65.55,0.3],[66.05,0.5],[66.55,0.2],[67.05,0.6],[67.55,0.0],[68.05,0.4],[68.55,0.7],[69.05,0.1],[69.55,0.5],
[70.05,0.2],[70.55,0.6],[71.05,0.0],[71.55,0.4],[72.05,0.7],[72.55,0.2],[73.05,0.5],[73.55,0.0],[74.05,0.6],[74.55,0.3],[75.05,0.8],[75.55,0.1],[76.05,0.4],[76.55,0.6],[77.05,0.0],[77.55,0.5],[78.05,0.2],[78.55,0.8],[79.05,0.3],[79.55,0.6],
[80.05,0.0],[80.55,0.4],[81.05,0.2],[81.55,0.6],[82.05,0.3],[82.55,0.7],[83.05,0.1],[83.55,0.5],[84.05,0.8],[84.55,0.0],[85.05,0.6],[85.55,0.3],[86.05,0.9],[86.55,0.4],[87.05,0.1],[87.55,0.7],[88.05,0.3],[88.55,0.0],[89.05,0.5],[89.55,0.8],
[90.05,0.2],[90.55,0.4],[90.75,0.0]];
var oar8Fill = [[0.3,0.9],[0.8,0.3],[1.3,0.6],[1.8,0.0],[2.3,0.8],[2.8,0.4],[3.3,0.9],[3.8,0.2],[4.3,0.5],[4.8,1.0],[5.3,0.0],[5.8,0.7],[6.3,0.3],[6.8,1.0],[7.3,0.5],[7.8,0.2],[8.3,0.9],[8.8,0.4],[9.3,1.1],[9.8,0.1],
[10.3,0.8],[10.8,0.5],[11.3,1.2],[11.8,0.0],[12.3,1.0],[12.8,0.4],[13.3,1.3],[13.8,0.2],[14.3,0.8],[14.8,0.5],[15.3,1.2],[15.8,0.3],[16.3,1.0],[16.8,0.1],[17.3,0.7],[17.8,1.1],[18.3,0.4],[18.8,0.9],[19.3,0.6],[19.8,1.0],
[20.3,0.3],[20.8,0.9],[21.3,0.5],[21.8,0.1],[22.3,0.9],[22.8,0.6],[23.3,0.0],[23.8,0.8],[24.3,0.3],[24.8,1.0],[25.3,0.1],[25.8,0.7],[26.3,0.4],[26.8,0.0],[27.3,0.8],[27.8,0.5],[28.3,1.0],[28.8,0.2],[29.3,0.8],[29.8,0.4],
[30.3,0.9],[30.8,0.2],[31.3,0.5],[31.8,0.9],[32.3,0.3],[32.8,0.7],[33.3,0.0],[33.8,0.6],[34.3,0.9],[34.8,0.1],[35.3,0.5],[35.8,0.8],[36.3,0.2],[36.8,0.9],[37.3,0.4],[37.8,0.0],[38.3,0.7],[38.8,0.9],[39.3,0.2],[39.8,0.5],
[40.3,0.8],[40.8,0.0],[41.3,0.5],[41.8,0.8],[42.3,0.2],[42.8,0.9],[43.3,0.6],[43.8,0.3],[44.3,0.9],[44.8,0.0],[45.3,0.7],[45.8,0.3],[46.3,0.5],[46.8,0.8],[47.3,0.1],[47.8,0.7],[48.3,0.3],[48.8,0.6],[49.3,0.1],[49.8,0.4],
[50.3,0.6],[50.8,0.0],[51.3,0.4],[51.8,0.8],[52.3,0.3],[52.8,0.6],[53.3,0.1],[53.8,0.9],[54.3,0.3],[54.8,0.7],[55.3,0.4],[55.8,0.8],[56.3,0.1],[56.8,0.3],[57.3,0.8],[57.8,0.0],[58.3,0.5],[58.8,0.9],[59.3,0.2],[59.8,0.5],
[60.3,0.9],[60.8,0.3],[61.3,0.7],[61.8,0.0],[62.3,0.5],[62.8,0.8],[63.3,0.3],[63.8,0.6],[64.3,0.9],[64.8,0.1],[65.3,0.7],[65.8,0.0],[66.3,0.5],[66.8,0.9],[67.3,0.2],[67.8,0.6],[68.3,0.4],[68.8,0.9],[69.3,0.2],[69.8,0.6],
[70.3,0.4],[70.8,0.9],[71.3,0.2],[71.8,0.8],[72.3,0.5],[72.8,0.0],[73.3,0.9],[73.8,0.3],[74.3,0.7],[74.8,1.0],[75.3,0.4],[75.8,0.8],[76.3,0.2],[76.8,0.9],[77.3,0.5],[77.8,0.0],[78.3,1.0],[78.8,0.6],[79.3,0.3],[79.8,0.8],
[80.3,0.3],[80.8,0.7],[81.3,0.0],[81.8,0.9],[82.3,0.5],[82.8,0.1],[83.3,0.8],[83.8,0.4],[84.3,1.0],[84.8,0.6],[85.3,0.2],[85.8,0.9],[86.3,0.6],[86.8,1.1],[87.3,0.3],[87.8,0.9],[88.3,0.6],[88.8,0.2],[89.3,1.0],[89.8,0.6],
[90.3,0.8],[90.6,0.4]];

var oar24Peaks = [[32.7,4.98],[33.8,3.3],[30.7,3.09],[7.5,2.65],[30.4,2.02],[32.7,1.74],[8.9,2.29],[15.1,2.4],[15.9,2.33],[13.7,2.18],[24.0,2.27],[21.2,1.91],[7.1,1.72],[7.4,1.95],[14.8,2.14],[14.3,1.81],[14.9,1.81],[15.8,1.79],[16.7,1.74],[2.0,1.64],[3.2,1.62],[28.3,1.64],[9.8,1.53],[8.4,1.55],[8.7,1.43],[0.1,1.37],[38.6,1.45],[39.5,1.45],[37.6,1.41],[36.1,1.18],[29.7,1.22],[31.0,1.32],[32.0,1.34],[23.3,1.3],[11.0,1.32],[12.3,1.26],[14.2,1.36],[19.5,1.18],[39.9,1.3],[40.4,1.3],[13.9,0.9]];
var oar24Band = [[0.1,1.0],[0.2,0.1],[0.4,0.3],[0.6,0.0],[0.8,0.5],[1.0,0.2],[1.2,0.7],[1.4,0.1],[1.6,0.4],[1.8,0.2],[2.0,0.6],[2.2,0.0],[2.4,0.3],[2.6,0.1],[2.8,0.5],[3.0,0.2],[3.2,0.7],[3.4,0.1],[3.6,0.4],[3.8,0.0],[4.0,0.6],[4.2,0.2],[4.4,0.5],[4.6,0.1],[4.8,0.7],[5.0,0.3],[5.2,0.0],[5.4,0.6],[5.6,0.2],[5.8,0.4],[6.0,0.1],[6.2,0.7],[6.4,0.3],[6.6,0.0],[6.8,0.5],[7.0,0.2],[7.2,0.6],[7.5,0.1],[7.7,0.9],[7.9,0.3],[8.1,1.0],[8.3,0.5],[8.5,0.8],[8.7,0.2],[8.9,1.1],[9.1,0.6],[9.3,0.3],[9.5,0.8],[9.7,0.1],[9.9,0.4],
[10.2,0.2],[10.5,0.6],[10.7,1.0],[10.9,0.3],[11.2,0.7],[11.4,0.1],[11.6,0.5],[11.9,0.2],[12.1,0.7],[12.4,0.1],[12.6,0.0],[12.8,0.1],[13.0,0.0],[13.3,0.2],[13.5,0.6],[13.7,0.3],[13.9,0.9],[14.1,0.5],[14.4,0.1],[14.6,0.8],[14.8,0.3],[15.0,1.0],[15.2,0.6],[15.5,0.2],[15.7,0.8],[15.9,0.4],[16.1,0.0],[16.4,0.6],[16.7,0.2],[16.9,0.4],[17.2,0.1],[17.5,0.7],[17.7,0.3],[17.9,1.0],[18.1,0.5],[18.3,0.8],[18.6,0.2],[18.9,0.6],[19.1,0.0],[19.3,0.4],[19.6,0.7],[19.8,0.2],
[20.1,0.5],[20.3,0.1],[20.6,0.3],[20.8,0.0],[21.0,0.6],[21.3,0.2],[21.6,0.4],[21.9,0.1],[22.2,0.3],[22.5,0.0],[22.7,0.5],[23.0,0.2],[23.2,0.9],[23.5,0.4],[23.8,0.1],[24.0,0.6],[24.3,0.3],[24.6,0.0],[24.9,0.4],[25.2,0.2],[25.5,0.6],[25.7,1.0],[25.9,0.1],[26.2,0.4],[26.5,0.0],[26.8,0.3],[27.0,0.1],[27.3,0.5],[27.6,0.2],[27.9,0.6],[28.1,0.3],[28.4,0.7],[28.7,0.1],[28.9,0.9],[29.1,0.4],[29.4,0.0],[29.6,0.6],[29.9,0.2],
[30.1,0.4],[30.4,0.1],[30.6,0.6],[30.9,0.2],[31.2,0.0],[31.4,0.4],[31.7,0.1],[31.9,0.5],[32.2,0.2],[32.5,0.8],[32.8,0.4],[33.0,0.9],[33.2,0.6],[33.5,0.1],[33.7,0.8],[34.0,0.3],[34.2,0.5],[34.5,0.0],[34.8,0.3],[35.0,0.1],[35.3,0.6],[35.6,0.2],[35.8,0.9],[36.1,0.4],[36.3,0.0],[36.6,0.5],[36.9,0.2],[37.1,0.7],[37.4,0.1],[37.6,0.4],[37.9,0.2],[38.1,0.6],[38.4,0.0],[38.6,0.3],[38.9,0.1],[39.1,1.1],[39.3,0.6],[39.6,0.2],[39.8,0.9],
[40.0,0.4],[40.3,1.1],[40.5,0.1],[40.7,0.6],[40.9,0.2],[41.1,0.4],[41.3,0.0],[41.5,0.7],[41.7,0.3],[41.9,0.8]];
var oar24Low = [[0.3,0.4],[0.9,0.1],[1.5,0.3],[2.1,0.1],[2.7,0.2],[3.3,0.4],[3.9,0.1],[4.5,0.3],[5.1,0.5],[5.7,0.1],[6.3,0.4],[6.9,0.1],[7.4,0.5],[8.0,0.2],[8.6,0.6],[9.2,0.4],[9.8,0.2],[10.4,0.4],[11.0,0.1],[11.7,0.4],[13.8,0.1],[14.3,0.4],[14.9,0.2],[15.4,0.5],[16.0,0.2],[16.6,0.4],[17.3,0.0],[17.8,0.5],[18.5,0.3],[19.2,0.1],[19.9,0.3],[20.5,0.0],[21.2,0.3],[21.8,0.1],[22.4,0.2],[23.1,0.0],[23.7,0.3],[24.4,0.1],[25.1,0.3],[25.8,0.5],[26.6,0.1],[27.4,0.3],[28.0,0.2],[28.6,0.4],[29.3,0.1],[30.0,0.3],[30.7,0.2],[31.5,0.1],[32.1,0.4],[32.9,0.2],[33.6,0.5],[34.3,0.2],[35.1,0.4],[35.9,0.1],[36.7,0.3],[37.3,0.1],[37.8,0.3],[38.5,0.2],[39.2,0.4],[39.9,0.6],[40.6,0.3],[41.2,0.2],[41.8,0.5]];

var oar16Peaks = [[10.8,4.77],[3.4,2.57],[3.3,2.38],[3.0,2.24],[3.4,2.05],[2.9,1.7],[36.4,2.53],[67.8,2.36],[70.8,2.26],[70.0,1.82],[16.7,2.24],[16.7,2.05],[13.5,2.2],[13.7,1.99],[12.4,2.07],[28.2,1.99],[28.4,1.74],[33.1,1.99],[63.5,2.05],[61.5,1.93],[66.2,1.82],[42.7,1.84],[37.7,1.76],[37.7,1.67],[36.0,1.76],[27.0,1.72],[25.1,1.67],[25.6,1.48],[57.8,1.67],[63.4,1.67],[9.9,1.7],[10.6,1.42],[18.0,1.57],[18.5,1.53],[19.7,1.38],[40.8,1.57],[40.1,1.48],[53.1,1.53],[52.5,1.34],[34.2,1.72],[63.8,1.42],[28.8,1.48],[27.8,1.42],[51.6,1.19],[41.9,1.26],[31.5,1.38],[14.9,1.59],[7.5,1.09],[56.5,1.21],[66.3,1.38],[68.0,1.34],[69.3,1.11],[71.4,1.19],[43.5,1.32],[44.9,1.21]];
var oar16Band = [[0.1,0.3],[0.3,0.1],[0.5,0.6],[0.7,0.2],[0.9,0.4],[1.1,0.8],[1.3,0.0],[1.5,0.5],[1.7,0.2],[1.9,0.7],[2.1,0.1],[2.3,1.2],[2.5,0.4],[2.7,0.9],[2.9,0.2],[3.1,1.1],[3.3,0.6],[3.5,0.0],[3.7,0.8],[3.9,0.3],[4.1,0.1],[4.3,0.5],[4.6,0.2],[4.8,1.0],[5.0,0.4],[5.2,0.1],[5.4,1.1],[5.7,0.3],[5.9,0.6],[6.1,0.0],[6.4,0.7],[6.6,0.2],[6.9,0.5],[7.1,0.1],[7.3,0.9],[7.6,0.3],[7.8,0.6],[8.1,0.0],[8.3,0.4],[8.6,0.7],[8.8,0.2],[9.1,0.9],[9.3,0.1],[9.6,0.5],[9.8,0.3],
[10.1,0.1],[10.3,0.6],[10.6,0.3],[10.9,0.9],[11.1,0.1],[11.4,0.7],[11.6,0.4],[11.9,1.0],[12.1,0.2],[12.4,0.5],[12.6,0.0],[12.9,0.8],[13.1,0.3],[13.4,1.1],[13.6,0.6],[13.9,0.1],[14.1,0.9],[14.4,0.4],[14.6,1.2],[14.9,0.2],[15.1,0.7],[15.4,0.0],[15.6,0.5],[15.9,0.9],[16.1,0.2],[16.4,0.6],[16.6,0.1],[16.9,0.8],[17.1,0.4],[17.4,1.0],[17.6,0.2],[17.9,0.6],[18.1,0.0],[18.4,0.9],[18.6,0.3],[18.9,0.7],[19.1,0.1],[19.4,0.5],[19.6,1.0],[19.9,0.3],
[20.1,0.7],[20.4,0.1],[20.6,0.9],[20.9,0.4],[21.1,0.0],[21.4,1.0],[21.6,0.5],[21.9,0.2],[22.1,0.8],[22.4,0.3],[22.6,1.1],[22.9,0.0],[23.1,0.6],[23.4,0.2],[23.6,1.1],[23.9,0.4],[24.1,0.8],[24.4,0.1],[24.6,0.5],[24.9,1.1],[25.1,0.3],[25.4,0.7],[25.6,0.0],[25.9,0.5],[26.1,1.0],[26.4,0.2],[26.6,0.7],[26.9,0.1],[27.1,1.1],[27.4,0.4],[27.6,0.8],[27.9,0.2],[28.1,1.2],[28.4,0.6],[28.6,0.1],[28.9,1.0],[29.1,0.3],[29.4,1.2],[29.6,0.7],[29.9,0.0],
[30.1,1.1],[30.4,0.5],[30.6,0.2],[30.9,0.9],[31.1,0.1],[31.4,0.6],[31.6,0.3],[31.9,0.8],[32.1,0.0],[32.4,1.1],[32.6,0.4],[32.9,0.9],[33.1,0.2],[33.4,1.2],[33.6,0.6],[33.9,0.1],[34.1,0.8],[34.4,0.4],[34.6,1.0],[34.9,0.2],[35.1,0.7],[35.4,0.0],[35.6,1.1],[35.9,0.5],[36.1,0.8],[36.4,0.2],[36.6,0.6],[36.9,1.0],[37.1,0.1],[37.4,0.7],[37.6,0.3],[37.9,0.9],[38.1,0.0],[38.4,0.6],[38.6,1.0],[38.9,0.2],[39.1,0.8],[39.4,0.4],[39.6,0.1],[39.9,0.7],
[40.1,0.3],[40.4,1.0],[40.6,0.5],[40.9,0.0],[41.1,0.8],[41.4,0.2],[41.6,0.6],[41.9,0.9],[42.1,0.1],[42.4,0.5],[42.6,0.3],[42.9,0.9],[43.1,0.0],[43.4,0.6],[43.6,0.2],[43.9,1.0],[44.1,0.4],[44.4,0.7],[44.6,0.1],[44.9,1.1],[45.1,0.3],[45.4,0.6],[45.6,0.0],[45.9,0.8],[46.1,0.2],[46.4,0.5],[46.6,1.0],[46.9,0.1],[47.1,0.6],[47.4,0.3],[47.6,0.9],[47.9,0.0],[48.1,0.5],[48.4,0.2],[48.6,0.7],[48.9,0.1],[49.1,0.4],[49.4,0.0],[49.6,0.6],[49.9,0.2],
[50.1,0.4],[50.4,0.0],[50.6,0.7],[50.9,0.2],[51.1,0.5],[51.4,0.1],[51.6,0.8],[51.9,0.3],[52.1,0.6],[52.4,0.0],[52.6,0.9],[52.9,0.2],[53.1,0.5],[53.4,1.0],[53.6,0.1],[53.9,0.6],[54.1,0.3],[54.4,0.0],[54.6,0.5],[54.9,0.2],[55.1,0.6],[55.4,0.1],[55.6,0.4],[55.9,0.0],[56.1,0.8],[56.4,1.1],[56.6,0.3],[56.9,1.1],[57.1,0.5],[57.4,0.1],[57.6,0.8],[57.9,0.3],[58.1,0.6],[58.4,0.0],[58.6,0.7],[58.9,0.2],[59.1,0.5],[59.4,0.1],[59.6,0.9],[59.9,0.3],
[60.1,0.6],[60.4,1.0],[60.6,0.1],[60.9,0.8],[61.1,0.3],[61.4,1.1],[61.6,0.5],[61.9,0.0],[62.1,0.9],[62.4,0.3],[62.6,0.6],[62.9,0.1],[63.1,0.9],[63.4,0.4],[63.6,1.2],[63.9,0.2],[64.1,0.7],[64.4,0.0],[64.6,1.0],[64.9,0.4],[65.1,0.8],[65.4,0.1],[65.6,1.2],[65.9,0.5],[66.1,0.2],[66.4,0.9],[66.6,0.3],[66.9,1.2],[67.1,0.6],[67.4,0.0],[67.6,1.0],[67.9,0.4],[68.1,0.7],[68.4,0.1],[68.6,1.0],[68.9,0.5],[69.1,0.2],[69.4,0.8],[69.6,0.3],[69.9,0.6],[70.1,0.0],[70.4,1.1],[70.6,0.4],[70.9,0.7],[71.1,0.2],[71.3,0.5],[71.5,0.1]];
var oar16Low = [[0.05,0.1],[0.55,0.4],[1.05,0.2],[1.55,0.6],[2.05,0.0],[2.55,0.3],[3.05,0.5],[3.55,0.2],[4.05,0.6],[4.55,0.0],[5.05,0.3],[5.55,0.1],[6.05,0.5],[6.55,0.2],[7.05,0.4],[7.55,0.0],[8.05,0.6],[8.55,0.2],[9.05,0.4],[9.55,0.1],
[10.05,0.4],[10.55,0.0],[11.05,0.5],[11.55,0.2],[12.05,0.6],[12.55,0.3],[13.05,0.0],[13.55,0.4],[14.05,0.2],[14.55,0.7],[15.05,0.1],[15.55,0.4],[16.05,0.6],[16.55,0.2],[17.05,0.0],[17.55,0.5],[18.05,0.3],[18.55,0.6],[19.05,0.1],[19.55,0.4],
[20.05,0.2],[20.55,0.5],[21.05,0.0],[21.55,0.3],[22.05,0.6],[22.55,0.1],[23.05,0.4],[23.55,0.7],[24.05,0.2],[24.55,0.5],[25.05,0.0],[25.55,0.4],[26.05,0.6],[26.55,0.2],[27.05,0.5],[27.55,0.0],[28.05,0.7],[28.55,0.3],[29.05,0.6],[29.55,0.1],
[30.05,0.5],[30.55,0.8],[31.05,0.2],[31.55,0.5],[32.05,0.0],[32.55,0.6],[33.05,0.3],[33.55,0.7],[34.05,0.1],[34.55,0.5],[35.05,0.3],[35.55,0.7],[36.05,0.0],[36.55,0.4],[37.05,0.6],[37.55,0.2],[38.05,0.5],[38.55,0.1],[39.05,0.4],[39.55,0.6],
[40.05,0.0],[40.55,0.4],[41.05,0.2],[41.55,0.6],[42.05,0.3],[42.55,0.0],[43.05,0.5],[43.55,0.2],[44.05,0.6],[44.55,0.3],[45.05,0.0],[45.55,0.5],[46.05,0.3],[46.55,0.1],[47.05,0.4],[47.55,0.2],[48.05,0.0],[48.55,0.4],[49.05,0.2],[49.55,0.3],
[50.05,0.1],[50.55,0.3],[51.05,0.0],[51.55,0.4],[52.05,0.2],[52.55,0.5],[53.05,0.0],[53.55,0.3],[54.05,0.1],[54.55,0.4],[55.05,0.2],[55.55,0.0],[56.05,0.5],[56.55,0.2],[57.05,0.6],[57.55,0.3],[58.05,0.0],[58.55,0.4],[59.05,0.2],[59.55,0.6],
[60.05,0.2],[60.55,0.5],[61.05,0.0],[61.55,0.6],[62.05,0.3],[62.55,0.7],[63.05,0.1],[63.55,0.5],[64.05,0.3],[64.55,0.6],[65.05,0.0],[65.55,0.4],[66.05,0.7],[66.55,0.1],[67.05,0.5],[67.55,0.3],[68.05,0.6],[68.55,0.0],[69.05,0.4],[69.55,0.7],
[70.05,0.3],[70.55,0.6],[71.05,0.0],[71.45,0.3]];
var oar16Fill = [[0.3,0.5],[0.8,0.0],[1.3,0.7],[1.8,0.3],[2.3,0.6],[2.8,0.0],[3.3,0.8],[3.8,0.4],[4.3,0.7],[4.8,0.2],[5.3,0.6],[5.8,0.0],[6.3,0.4],[6.8,0.8],[7.3,0.2],[7.8,0.5],[8.3,0.1],[8.8,0.7],[9.3,0.4],[9.8,0.8],
[10.3,0.2],[10.8,0.5],[11.3,0.8],[11.8,0.0],[12.3,0.7],[12.8,0.4],[13.3,0.9],[13.8,0.2],[14.3,0.6],[14.8,0.9],[15.3,0.3],[15.8,0.7],[16.3,0.0],[16.8,0.5],[17.3,0.8],[17.8,0.3],[18.3,0.6],[18.8,0.1],[19.3,0.8],[19.8,0.5],
[20.3,0.3],[20.8,0.8],[21.3,0.1],[21.8,0.6],[22.3,0.9],[22.8,0.4],[23.3,0.8],[23.8,0.0],[24.3,0.6],[24.8,0.3],[25.3,0.9],[25.8,0.2],[26.3,0.5],[26.8,0.9],[27.3,0.3],[27.8,0.6],[28.3,0.9],[28.8,0.4],[29.3,0.0],[29.8,0.9],
[30.3,0.3],[30.8,0.6],[31.3,0.9],[31.8,0.1],[32.3,0.7],[32.8,0.4],[33.3,0.8],[33.8,0.0],[34.3,0.6],[34.8,0.9],[35.3,0.2],[35.8,0.8],[36.3,0.5],[36.8,0.1],[37.3,0.9],[37.8,0.5],[38.3,0.2],[38.8,0.8],[39.3,0.5],[39.8,0.0],
[40.3,0.7],[40.8,0.4],[41.3,0.9],[41.8,0.1],[42.3,0.7],[42.8,0.4],[43.3,0.8],[43.8,0.1],[44.3,0.5],[44.8,0.9],[45.3,0.2],[45.8,0.6],[46.3,0.8],[46.8,0.3],[47.3,0.7],[47.8,0.1],[48.3,0.6],[48.8,0.3],[49.3,0.5],[49.8,0.0],
[50.3,0.5],[50.8,0.3],[51.3,0.6],[51.8,0.0],[52.3,0.4],[52.8,0.7],[53.3,0.2],[53.8,0.8],[54.3,0.4],[54.8,0.1],[55.3,0.3],[55.8,0.6],[56.3,0.2],[56.8,0.7],[57.3,0.9],[57.8,0.4],[58.3,0.8],[58.8,0.1],[59.3,0.6],[59.8,0.8],
[60.3,0.3],[60.8,0.7],[61.3,0.4],[61.8,0.9],[62.3,0.1],[62.8,0.5],[63.3,0.8],[63.8,0.3],[64.3,0.9],[64.8,0.6],[65.3,0.2],[65.8,0.9],[66.3,0.5],[66.8,0.8],[67.3,0.2],[67.8,0.9],[68.3,0.5],[68.8,0.8],[69.3,0.0],[69.8,0.9],
[70.3,0.5],[70.8,0.9],[71.2,0.4]];

var pointSets = [
	oar5Low.concat(oar5Fill, oar5Band, oar5Peaks),
	oar21Low.concat(oar21Band, oar21Peaks),
	oar8Low.concat(oar8Fill, oar8Band, oar8Peaks),
	oar24Low.concat(oar24Band, oar24Peaks),
	oar16Low.concat(oar16Fill, oar16Band, oar16Peaks)
];

// cadres des 5 graphiques (px) et étendue des axes x
var boxes = [
	{left: 54, top: 42, xmin: -4.3, xmax: 111.9},
	{left: 574, top: 42, xmin: -1.7, xmax: 50.3},
	{left: 54, top: 312, xmin: -3.6, xmax: 94.65},
	{left: 574, top: 312, xmin: -1.6, xmax: 42.66},
	{left: 54, top: 583, xmin: -2.77, xmax: 74.5}
];
var BOX_W = 458, BOX_H = 188;
var FONT = '"Liberation Sans", Arial, sans-serif';

var option = {
	animation: false,
	backgroundColor: '#ffffff',
	title: [], grid: [], xAxis: [], yAxis: [], series: [],
	graphic: []
};

for (var i = 0; i < chromNames.length; i++)
{
	var b = boxes[i];
	option.title.push({
		text: 'Abcès par catégorie : ' + chromNames[i],
		left: b.left + BOX_W / 2, top: b.top - 32, textAlign: 'center',
		textStyle: {color: '#ff0000', fontSize: 23, fontWeight: 'normal', fontFamily: FONT}
	});
	option.grid.push({
		left: b.left, top: b.top, width: BOX_W, height: BOX_H,
		show: true, borderColor: '#333333', borderWidth: 1, backgroundColor: 'transparent'
	});
	option.xAxis.push({
		type: 'value', gridIndex: i, min: b.xmin, max: b.xmax, position: 'bottom',
		name: 'Position (Mb)', nameLocation: 'middle', nameGap: 21,
		nameTextStyle: {color: '#222', fontSize: 16, fontFamily: FONT},
		axisLine: {show: false, onZero: false},
		splitLine: {show: false},
		axisTick: {show: true, inside: false, length: 6, customValues: xTicks[i], lineStyle: {color: '#333'}},
		axisLabel: {show: true, margin: 5, color: '#222', fontSize: 16, fontFamily: FONT, customValues: xLabels[i]}
	});
	option.yAxis.push({
		type: 'value', gridIndex: i, min: -0.4, max: 10.4, position: 'left',
		name: '\u2212log10(P)', nameLocation: 'middle', nameGap: 23, nameRotate: 90,
		nameTextStyle: {color: '#222', fontSize: 16, fontFamily: FONT},
		axisLine: {show: false, onZero: false},
		splitLine: {show: false},
		axisTick: {show: true, inside: false, length: 6, customValues: yTicks, lineStyle: {color: '#333'}},
		axisLabel: {show: true, rotate: 90, margin: 7, color: '#222', fontSize: 16, fontFamily: FONT, customValues: yLabels}
	});
	option.series.push({
		type: 'scatter', xAxisIndex: i, yAxisIndex: i,
		data: pointSets[i],
		symbol: 'circle', symbolSize: 5.5,
		itemStyle: {color: 'rgba(0,0,0,0)', borderColor: '#0000ff', borderWidth: 1.5},
		emphasis: {disabled: true},
		markLine: {
			silent: true, symbol: 'none', label: {show: false},
			data: [
				{yAxis: blackLines[i], lineStyle: {color: '#000000', width: 1, type: 'solid'}},
				{yAxis: redLines[i], lineStyle: {color: '#ff0000', width: 1, type: 'solid'}}
			]
		}
	});
}

option.graphic.push({
	type: 'text', right: 9, top: 521,
	style: {text: 'INRA', fill: '#222', font: '15px ' + FONT}
});
option.graphic.push({
	type: 'text', x: 1036, y: 444, rotation: Math.PI / 2,
	style: {text: 'mer aoû 17 14:13:53 2011', fill: '#555', font: '8px ' + FONT, align: 'center', verticalAlign: 'middle'}
});

var myChart = echarts.init(document.getElementById('chart'), null, {renderer: 'canvas'});
myChart.setOption(option);
</script>
</body>
</html>
